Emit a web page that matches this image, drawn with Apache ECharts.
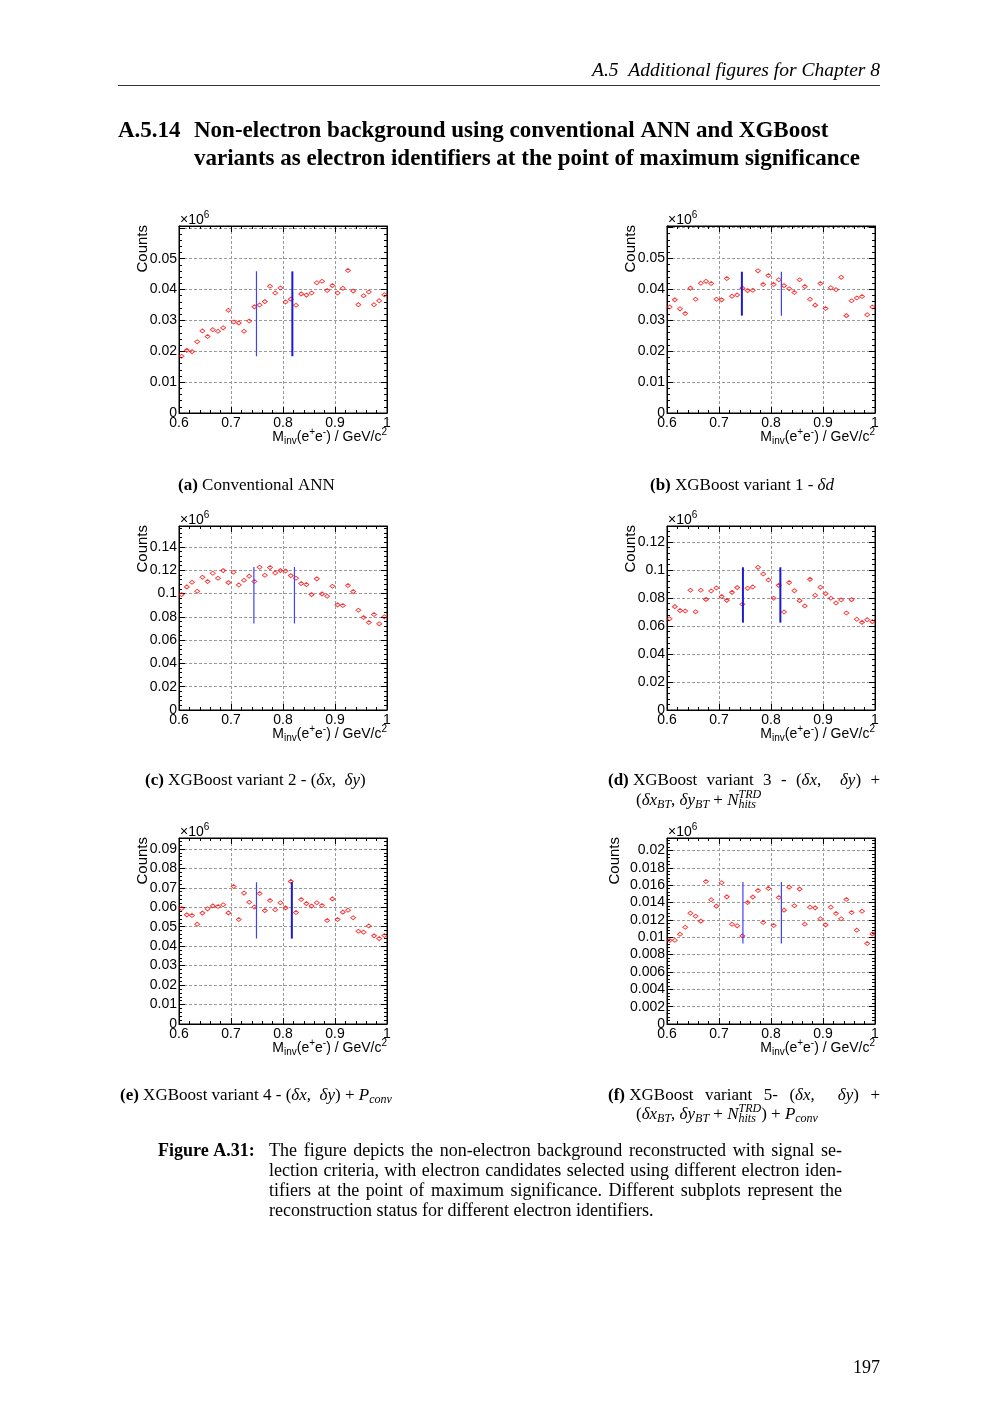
<!DOCTYPE html>
<html><head><meta charset="utf-8">
<script src="https://cdn.jsdelivr.net/npm/echarts@6/dist/echarts.min.js"></script>
<style>html,body{margin:0;padding:0;background:#fff}#c{width:1000px;height:1414px}</style>
</head><body><div id="c"></div><script>
// ---------- data ----------
const binCenters = [0.605,0.615,0.625,0.635,0.645,0.655,0.665,0.675,0.685,0.695,
  0.705,0.715,0.725,0.735,0.745,0.755,0.765,0.775,0.785,0.795,
  0.805,0.815,0.825,0.835,0.845,0.855,0.865,0.875,0.885,0.895,
  0.905,0.915,0.925,0.935,0.945,0.955,0.965,0.975,0.985,0.995];

const countsA = [0.0184,0.0203,0.0199,0.0231,0.0266,0.0248,0.0270,0.0265,0.0276,0.0333,
  0.0295,0.0292,0.0265,0.0298,0.0344,0.0350,0.0361,0.0411,0.0389,0.0405,
  0.0360,0.0369,0.0349,0.0386,0.0382,0.0389,0.0422,0.0427,0.0397,0.0413,
  0.0389,0.0404,0.0462,0.0395,0.0351,0.0380,0.0392,0.0351,0.0364,0.0383];
const countsB = [0.0343,0.0366,0.0337,0.0322,0.0404,0.0368,0.0420,0.0426,0.0419,0.0368,
  0.0366,0.0435,0.0378,0.0382,0.0404,0.0396,0.0397,0.0460,0.0416,0.0445,
  0.0416,0.0431,0.0412,0.0402,0.0390,0.0431,0.0409,0.0368,0.0349,0.0419,
  0.0338,0.0405,0.0399,0.0439,0.0315,0.0363,0.0372,0.0377,0.0318,0.0343];
const countsC = [0.0991,0.1057,0.1097,0.1020,0.1140,0.1103,0.1174,0.1131,0.1197,0.1094,
  0.1183,0.1074,0.1114,0.1149,0.1103,0.1226,0.1157,0.1223,0.1177,0.1197,
  0.1194,0.1154,0.1131,0.1086,0.1077,0.0991,0.1126,0.0997,0.0977,0.1063,
  0.0903,0.0897,0.1069,0.1017,0.0857,0.0794,0.0751,0.0820,0.0740,0.0800];
const countsD = [0.0652,0.0738,0.0710,0.0707,0.0855,0.0702,0.0855,0.0790,0.0850,0.0871,
  0.0810,0.0783,0.0840,0.0874,0.0755,0.0869,0.0879,0.1019,0.0971,0.0929,
  0.0798,0.0890,0.0700,0.0910,0.0852,0.0781,0.0743,0.0933,0.0819,0.0876,
  0.0831,0.0798,0.0764,0.0786,0.0693,0.0788,0.0648,0.0626,0.0645,0.0631];
const countsE = [0.0594,0.0561,0.0558,0.0513,0.0570,0.0592,0.0607,0.0604,0.0613,0.0571,
  0.0707,0.0537,0.0673,0.0626,0.0601,0.0671,0.0583,0.0635,0.0587,0.0623,
  0.0597,0.0733,0.0573,0.0640,0.0619,0.0606,0.0623,0.0609,0.0532,0.0643,
  0.0537,0.0575,0.0585,0.0546,0.0477,0.0472,0.0504,0.0453,0.0439,0.0455];
const countsF = [0.00962,0.00965,0.01035,0.01115,0.01277,0.01242,0.01185,0.01642,0.01431,0.01358,
  0.01627,0.01465,0.01150,0.01131,0.01015,0.01400,0.01462,0.01538,0.01169,0.01562,
  0.01135,0.01458,0.01312,0.01577,0.01362,0.01554,0.01150,0.01346,0.01338,0.01212,
  0.01142,0.01346,0.01273,0.01212,0.01435,0.01285,0.01081,0.01300,0.00927,0.01038];

// mass-window marker lines: x positions and [low, high] extents
const linesXA = [0.749, 0.818];  const linesYA = [0.0184, 0.0459];
const linesXB = [0.744, 0.820];  const linesYB = [0.0315, 0.0457];
const linesXC = [0.744, 0.822];  const linesYC = [0.0743, 0.1229];
const linesXD = [0.746, 0.818];  const linesYD = [0.0624, 0.1019];
const linesXE = [0.749, 0.817];  const linesYE = [0.0439, 0.0729];
const linesXF = [0.746, 0.820];  const linesYF = [0.00927, 0.01635];

// y axis ranges (x10^6 counts) and highest labelled tick
const yMax = [0.0606, 0.0605, 0.158, 0.1314, 0.0956, 0.02143];
const yStep = [0.01, 0.01, 0.02, 0.02, 0.01, 0.002];
const yLabelTop = [0.05, 0.05, 0.14, 0.12, 0.09, 0.02];

// ---------- layout / style ----------
const panels = [
  {counts: countsA, lx: linesXA, ly: linesYA, left: 179, top: 226, height: 187, lw: [1.2, 2], cx: 143},
  {counts: countsB, lx: linesXB, ly: linesYB, left: 667, top: 226, height: 187, lw: [2, 1.2], cx: 631},
  {counts: countsC, lx: linesXC, ly: linesYC, left: 179, top: 526, height: 184, lw: [1.2, 1.2], cx: 143},
  {counts: countsD, lx: linesXD, ly: linesYD, left: 667, top: 526, height: 184, lw: [2, 2], cx: 631},
  {counts: countsE, lx: linesXE, ly: linesYE, left: 179, top: 838, height: 186, lw: [1.2, 2], cx: 143},
  {counts: countsF, lx: linesXF, ly: linesYF, left: 667, top: 838, height: 186, lw: [1.2, 1.2], cx: 615}
];
const PW = 208;
const SANS = '"Liberation Sans", Arial, sans-serif';
const SERIF = '"Liberation Serif", "Times New Roman", serif';

const grids = [], xAxes = [], yAxes = [], series = [], graphics = [];

// text helpers (measured placement for sub/superscripts and justification)
const mctx = document.createElement('canvas').getContext('2d');
function fontOf(pc) { return (pc.st || 'normal') + ' ' + (pc.w || 'normal') + ' ' + pc.s + 'px ' + (pc.f || SERIF); }
function widthOf(pc) {
  if (pc.stack) return Math.max.apply(null, pc.stack.map(widthOf));
  mctx.font = fontOf(pc); return mctx.measureText(pc.t).width;
}
function put(x, y, pc, align) {
  if (pc.stack) { pc.stack.forEach(q => put(x, y, q, align)); return; }
  graphics.push({type: 'text', x: x, y: y + (pc.dy || 0), silent: true,
    style: {text: pc.t, fill: '#000', fontFamily: pc.f || SERIF, fontSize: pc.s,
      fontStyle: pc.st || 'normal', fontWeight: pc.w || 'normal', align: align || 'left', verticalAlign: 'middle'}});
}
function line(x0, y, pieces, justifyTo) {
  let total = 0, gaps = 0;
  pieces.forEach(p => { total += widthOf(p); if (p.gap) gaps++; });
  let extra = (justifyTo && gaps) ? (justifyTo - x0 - total) / gaps : 0;
  let x = x0;
  pieces.forEach(p => { if (!p.gap) put(x, y, p); x += widthOf(p) + (p.gap ? extra : 0); });
  return x;
}
const R = (t, s) => ({t, s});
const I = (t, s) => ({t, s, st: 'italic'});
const B = (t, s) => ({t, s, w: 'bold'});
const G = (s) => ({t: ' ', s, gap: true});
const Sb = (t, s) => ({t, s: Math.round(s * 0.7), st: 'italic', dy: 4});
const Sp = (t, s) => ({t, s: Math.round(s * 0.7), st: 'italic', dy: -6});
function words(text, s) {
  const out = [];
  text.split(' ').forEach((w, k) => { if (k) out.push(G(s)); out.push(R(w, s)); });
  return out;
}

panels.forEach((p, i) => {
  grids.push({left: p.left, top: p.top, width: PW, height: p.height, show: true,
    borderColor: '#000', borderWidth: 1, backgroundColor: 'transparent', containLabel: false});
  const tickStyle = {
    axisLine: {show: true, onZero: false, lineStyle: {color: '#000', width: 1}},
    axisTick: {show: true, inside: true, length: 6, lineStyle: {color: '#000', width: 1}},
    minorTick: {show: true, splitNumber: 5, length: 3, lineStyle: {color: '#000', width: 1}}
  };
  const gridLine = {show: true, lineStyle: {color: '#9a9a9a', width: 1, type: [3, 2]}};
  const xc = {type: 'value', gridIndex: i, min: 0.6, max: 1.0, interval: 0.1};
  xAxes.push(Object.assign({}, xc, tickStyle, {position: 'bottom',
    axisLabel: {show: true, color: '#000', fontFamily: SANS, fontSize: 14, margin: 3},
    splitLine: gridLine}));
  xAxes.push(Object.assign({}, xc, tickStyle, {position: 'top', axisLabel: {show: false}, splitLine: {show: false}}));
  const yc = {type: 'value', gridIndex: i, min: 0, max: yMax[i], interval: yStep[i]};
  const top = yLabelTop[i], step = yStep[i];
  yAxes.push(Object.assign({}, yc, tickStyle, {position: 'left',
    axisLabel: {show: true, color: '#000', fontFamily: SANS, fontSize: 14, margin: 2,
      formatter: v => (v > top + step * 0.1) ? '' : String(+v.toFixed(4))},
    splitLine: gridLine}));
  yAxes.push(Object.assign({}, yc, tickStyle, {position: 'right', axisLabel: {show: false}, splitLine: {show: false}}));

  series.push({type: 'scatter', xAxisIndex: 2 * i, yAxisIndex: 2 * i,
    data: binCenters.map((x, k) => [x, p.counts[k]]),
    symbol: 'diamond', symbolSize: [5, 4], silent: true, animation: false,
    itemStyle: {color: 'rgba(255,255,255,0)', borderColor: '#ff0000', borderWidth: 0.9}});
  p.lx.forEach((lx, k) => {
    series.push({type: 'line', xAxisIndex: 2 * i, yAxisIndex: 2 * i,
      data: [[lx, p.ly[0]], [lx, p.ly[1]]], symbol: 'none', silent: true, animation: false,
      lineStyle: {color: p.lw[k] > 1.5 ? '#1a1ad0' : '#4040ff', width: p.lw[k]}});
  });

  // ROOT-style axis titles
  graphics.push({type: 'text', x: p.cx, y: p.top - 1, rotation: Math.PI / 2, silent: true,
    style: {text: 'Counts', fill: '#000', fontFamily: SANS, fontSize: 15, align: 'right', verticalAlign: 'middle'}});
  const xe = line(p.left + 1, p.top - 6, [{t: '×10', s: 14, f: SANS}]);
  put(xe, p.top - 11, {t: '6', s: 10, f: SANS});
  const tp = [{t: 'M', s: 14, f: SANS}, {t: 'inv', s: 10, f: SANS, dy: 4}, {t: '(e', s: 14, f: SANS},
    {t: '+', s: 10, f: SANS, dy: -5}, {t: 'e', s: 14, f: SANS}, {t: '-', s: 10, f: SANS, dy: -5},
    {t: ') / GeV/c', s: 14, f: SANS}, {t: '2', s: 10, f: SANS, dy: -5}];
  let tw = 0; tp.forEach(q => tw += widthOf(q));
  line(p.left + PW - tw, p.top + p.height + 24, tp);
});

// ---------- page text ----------
put(880, 71, {t: 'A.5  Additional figures for Chapter 8', s: 19.5, st: 'italic'}, 'right');
graphics.push({type: 'line', silent: true, shape: {x1: 118, y1: 85.5, x2: 880, y2: 85.5}, style: {stroke: '#000', lineWidth: 0.8}});
const TS = 23;
put(118, 131, {t: 'A.5.14', s: TS, w: 'bold'});
put(194, 131, {t: 'Non-electron background using conventional ANN and XGBoost', s: TS, w: 'bold'});
put(194, 159, {t: 'variants as electron identifiers at the point of maximum significance', s: TS, w: 'bold'});

const SC = 17;
line(178, 486, [B('(a)', SC), R(' Conventional ANN', SC)]);
line(650, 486, [B('(b)', SC), R(' XGBoost variant 1 - ', SC), I('δd', SC)]);
line(145, 781, [B('(c)', SC), R(' XGBoost variant 2 - (', SC), I('δx', SC), R(',  ', SC), I('δy', SC), R(')', SC)]);
line(608, 781, [B('(d)', SC), R(' XGBoost', SC), G(SC), R('variant', SC), G(SC), R('3', SC), G(SC), R('-', SC), G(SC),
  R('(', SC), I('δx', SC), R(',', SC), G(SC), G(SC), I('δy', SC), R(')', SC), G(SC), R('+', SC)], 880);
line(636, 801, [R('(', SC), I('δx', SC), Sb('BT', SC), R(', ', SC), I('δy', SC), Sb('BT', SC), R(' + ', SC), I('N', SC),
  {stack: [Sp('TRD', SC), Sb('hits', SC)]}]);
line(120, 1096, [B('(e)', SC), R(' XGBoost variant 4 - (', SC), I('δx', SC), R(',  ', SC), I('δy', SC), R(') + ', SC),
  I('P', SC), Sb('conv', SC)]);
line(608, 1096, [B('(f)', SC), R(' XGBoost', SC), G(SC), R('variant', SC), G(SC), R('5-', SC), G(SC),
  R('(', SC), I('δx', SC), R(',', SC), G(SC), G(SC), I('δy', SC), R(')', SC), G(SC), R('+', SC)], 880);
line(636, 1115, [R('(', SC), I('δx', SC), Sb('BT', SC), R(', ', SC), I('δy', SC), Sb('BT', SC), R(' + ', SC), I('N', SC),
  {stack: [Sp('TRD', SC), Sb('hits', SC)]}, R(') + ', SC), I('P', SC), Sb('conv', SC)]);

const CS = 18;
put(158, 1151, {t: 'Figure A.31:', s: CS, w: 'bold'});
const captionLines = [
  'The figure depicts the non-electron background reconstructed with signal se-',
  'lection criteria, with electron candidates selected using different electron iden-',
  'tifiers at the point of maximum significance.  Different subplots represent the',
  'reconstruction status for different electron identifiers.'
];
captionLines.forEach((t, k) => line(269, 1151 + 20 * k, words(t.replace('  ', ' '), CS), k < 3 ? 842 : null));
put(880, 1368, {t: '197', s: 18}, 'right');

const chart = echarts.init(document.getElementById('c'), null, {renderer: 'canvas', width: 1000, height: 1414});
chart.setOption({
  backgroundColor: '#ffffff',
  animation: false,
  grid: grids, xAxis: xAxes, yAxis: yAxes, series: series,
  graphic: {elements: graphics}
});
</script></body></html>
